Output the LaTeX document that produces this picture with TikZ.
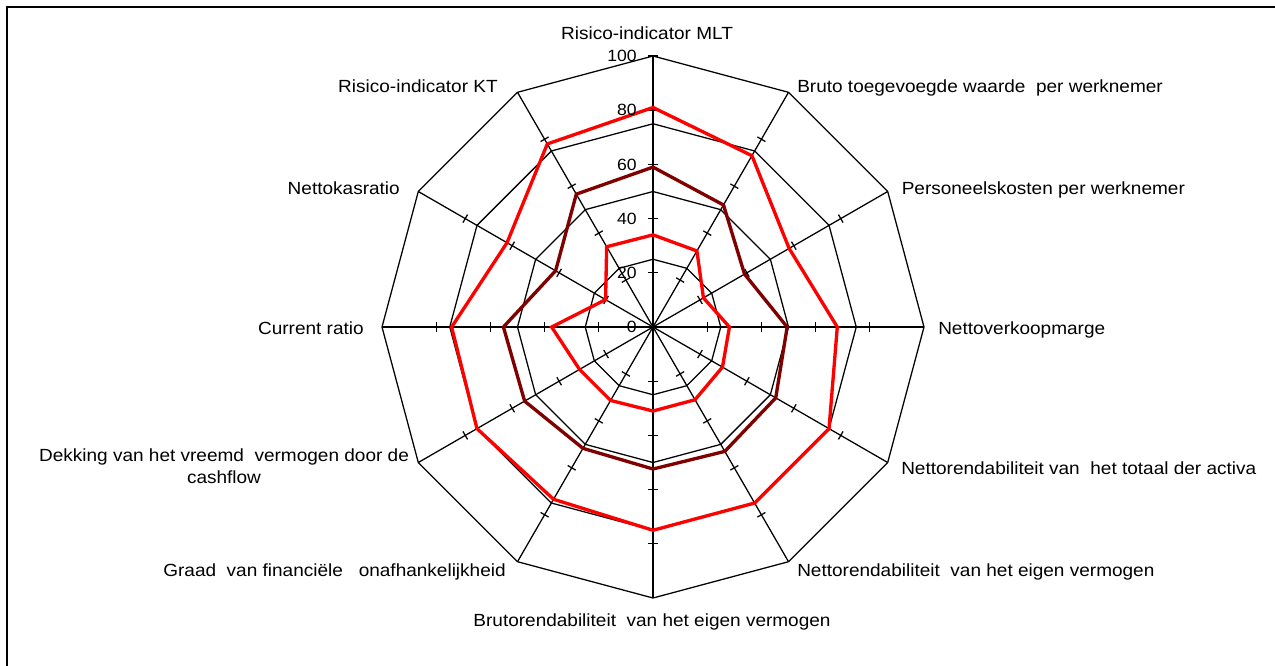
\documentclass[tikz,border=0pt]{standalone}
\usepackage{fontspec}
\setmainfont{Liberation Sans}[FakeStretch=1.08]
\definecolor{seriesred}{RGB}{255,0,0}
\definecolor{seriesdark}{RGB}{128,0,0}
\begin{document}
\begin{tikzpicture}[x=0.75pt,y=-0.75pt,
  gridline/.style={black,line width=0.95pt},
  serieline/.style={line width=2.5pt,line join=miter},
  axislbl/.style={font=\fontsize{13.2}{16}\selectfont,inner sep=0pt},
  ticklbl/.style={font=\fontsize{12.2}{13}\selectfont,inner sep=0pt,anchor=east}]
\useasboundingbox (0,0) rectangle (1275,665);
\clip (0,0) rectangle (1275,665);
\fill[white] (0,0) rectangle (1275,665);
% chart area border (right and bottom edges lie outside the page)
\draw[line width=1.5pt] (7,7) rectangle (1300,700);

% radar plot, radius 100 = 271px
\begin{scope}[shift={(653,327)},x=2.0325pt,y=2.0325pt]
  % grid polygons
  \foreach \r in {25,50,75,100}
    \draw[gridline] (90:\r) \foreach \i in {1,...,11} {-- ({90-30*\i}:\r)} -- cycle;
  % spokes and ticks
  \foreach \i in {0,...,11}{
    \pgfmathsetmacro{\ang}{90-30*\i}
    \draw[gridline] (0,0) -- (\ang:100);
    \foreach \v in {20,40,60,80}
      \draw[gridline] (\ang:\v) ++({\ang+90}:1.7) -- ++({\ang-90}:3.4);
  }
  \draw[gridline] (90:100) ++(180:1.7) -- ++(0:3.4);
  \draw[gridline] (0,0) ++(180:1.7) -- ++(0:3.4);

  % series
  \draw[serieline,seriesred]
    (90:34) -- (60:32.4) -- (30:21.5) -- (0:28.2) -- (-30:29.6) -- (-60:31)
    -- (-90:31) -- (-120:31.3) -- (-150:31.3) -- (180:37.4) -- (150:20.2)
    -- (120:34.2) -- cycle;
  \draw[serieline,seriesdark]
    (90:59) -- (60:52) -- (30:39) -- (0:49.5) -- (-30:52.3) -- (-60:53)
    -- (-90:52.4) -- (-120:51.7) -- (-150:54.7) -- (180:55.2) -- (150:41.5)
    -- (120:56.6) -- cycle;
  \draw[serieline,seriesred]
    (90:81) -- (60:73) -- (30:58) -- (0:68) -- (-30:75) -- (-60:75)
    -- (-90:75) -- (-120:73.4) -- (-150:75) -- (180:74.3) -- (150:62.2)
    -- (120:78) -- cycle;
\end{scope}

% value axis labels
\node[ticklbl] (v0)   at (637,327)   {0};
\node[ticklbl] (v20)  at (637,272.8) {20};
\node[ticklbl] (v40)  at (637,218.6) {40};
\node[ticklbl] (v60)  at (637,164.4) {60};
\node[ticklbl] (v80)  at (637,110.2) {80};
\node[ticklbl] (v100) at (637,56)    {100};

% category labels
\node[axislbl,anchor=base] (c0) at (647,39.5) {Risico-indicator MLT};
\node[axislbl,anchor=base west] (c1) at (797,92) {Bruto toegevoegde waarde~ per werknemer};
\node[axislbl,anchor=base west] (c2) at (901.5,194) {Personeelskosten per werknemer};
\node[axislbl,anchor=base west] (c3) at (938,334) {Nettoverkoopmarge};
\node[axislbl,anchor=base west] (c4) at (901,474) {Nettorendabiliteit van~ het totaal der activa};
\node[axislbl,anchor=base west] (c5) at (797,576) {Nettorendabiliteit~ van het eigen vermogen};
\node[axislbl,anchor=base] (c6) at (652,626) {Brutorendabiliteit~ van het eigen vermogen};
\node[axislbl,anchor=base east] (c7) at (506,576) {Graad~ van financiële~~ onafhankelijkheid};
\node[axislbl,anchor=base,align=center] (c8) at (224,483) {Dekking van het vreemd~ vermogen door de\\cashflow};
\node[axislbl,anchor=base east] (c9) at (364,334) {Current ratio};
\node[axislbl,anchor=base east] (c10) at (400,194) {Nettokasratio};
\node[axislbl,anchor=base east] (c11) at (498,92) {Risico-indicator KT};
\end{tikzpicture}
\end{document}
